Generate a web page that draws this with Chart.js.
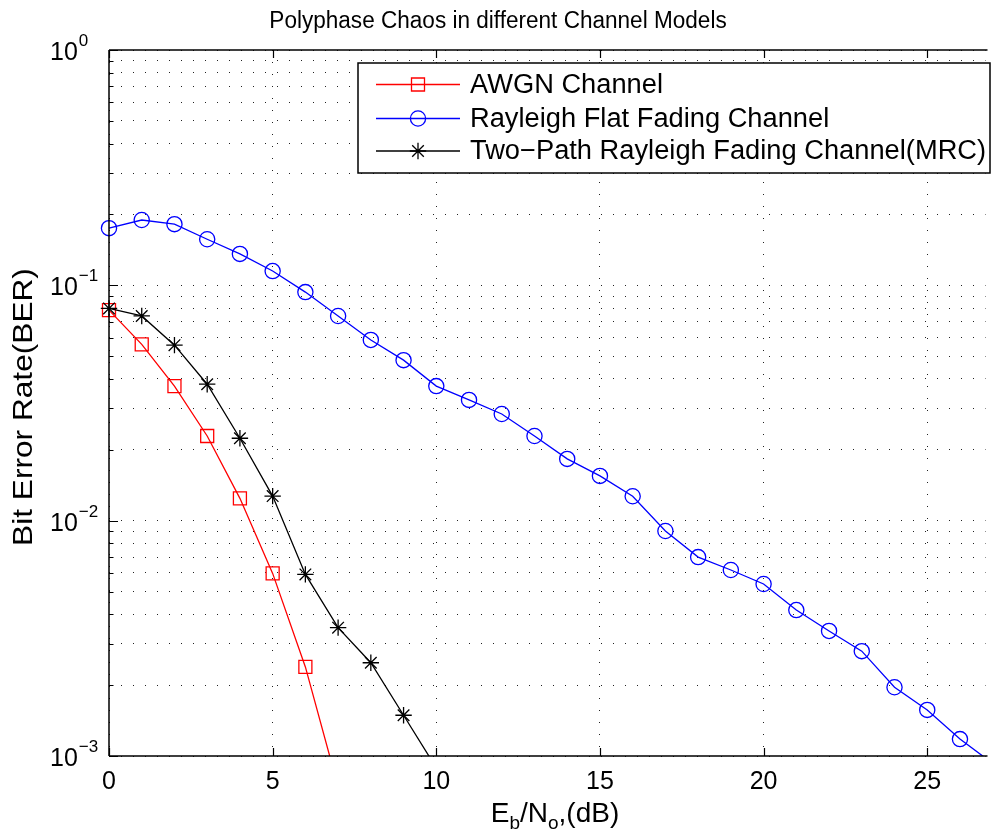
<!DOCTYPE html>
<html>
<head>
<meta charset="utf-8">
<title>Polyphase Chaos in different Channel Models</title>
<script src="https://cdn.jsdelivr.net/npm/chart.js@4.4.0/dist/chart.umd.min.js"></script>
<style>
  html, body { margin: 0; padding: 0; background: #fff; overflow: hidden; }
  canvas { display: block; }
</style>
</head>
<body>
<canvas id="berChart" width="996" height="837"></canvas>
<script>
// Eb/No sweep in dB
const ebnoDb = [0, 1, 2, 3, 4, 5, 6, 7, 8, 9, 10, 11, 12, 13, 14, 15, 16, 17, 18, 19, 20, 21, 22, 23, 24, 25, 26, 27];

// Simulated bit error rates
const awgnBer = [0.0785, 0.0561, 0.0373, 0.0229, 0.01244, 0.00597, 0.00239, 0.00074];
const rayleighBer = [0.175, 0.1895, 0.182, 0.157, 0.136, 0.115, 0.0936, 0.0741, 0.0586, 0.0481,
                     0.0373, 0.0326, 0.0284, 0.0229, 0.0183, 0.0155, 0.0127, 0.00904, 0.0070, 0.00617,
                     0.00538, 0.00417, 0.0034, 0.00279, 0.00196, 0.00157, 0.00118, 0.00093];
const twoPathBer = [0.0798, 0.0741, 0.0557, 0.0380, 0.0224, 0.01272, 0.00591, 0.00351, 0.00249, 0.00149, 0.00089];

// Axis ticks
const xTickValues = [0, 5, 10, 15, 20, 25];
const yDecadeExponents = [0, -1, -2, -3];

// Texts
const chartTitle = 'Polyphase Chaos in different Channel Models';
const yAxisTitle = 'Bit Error Rate(BER)';
const seriesNames = ['AWGN Channel', 'Rayleigh Flat Fading Channel', 'Two\u2212Path Rayleigh Fading Channel(MRC)'];

const FONT = "'Liberation Sans', Arial, Helvetica, sans-serif";

// every 1..9 x 10^k between the lowest and highest decade
const yGridValues = [];
(function () {
  const lo = Math.min(...yDecadeExponents), hi = Math.max(...yDecadeExponents);
  for (let e = lo; e < hi; e++) {
    for (let m = 1; m <= 9; m++) yGridValues.push(Number((m * Math.pow(10, e)).toPrecision(3)));
  }
  yGridValues.push(Math.pow(10, hi));
})();

const toPoints = (ys) => ys.map((v, i) => ({ x: ebnoDb[i], y: v }));

const seriesStyle = [
  { color: '#ff0000', pointStyle: 'rect', radius: 9.2 },
  { color: '#0000ff', pointStyle: 'circle', radius: 7.6 },
  { color: '#000000', pointStyle: 'star', radius: 8.2 }
];

const makeDataset = (label, values, style, order) => ({
  label,
  data: toPoints(values),
  borderColor: style.color,
  borderWidth: 1.3,
  pointStyle: style.pointStyle,
  pointRadius: style.radius,
  pointBorderColor: style.color,
  pointBorderWidth: 1.3,
  pointBackgroundColor: 'rgba(0,0,0,0)',
  tension: 0,
  fill: false,
  order,
  clip: { left: false, top: false, right: 0, bottom: 0 }
});

// text drawn with a stretch factor along its own direction
function stretchedText(ctx, text, x, y, sx) {
  ctx.save();
  ctx.translate(x, y);
  ctx.scale(sx, 1);
  ctx.fillText(text, 0, 0);
  ctx.restore();
}

// Axes box, inward tick marks, tick labels, titles and legend in MATLAB style
const matlabAxes = {
  id: 'matlabAxes',
  afterDraw(chart) {
    const { ctx, chartArea: a } = chart;
    const xs = chart.scales.x, ys = chart.scales.y;
    ctx.save();

    // box
    ctx.strokeStyle = '#000';
    ctx.lineWidth = 1.5;
    ctx.beginPath();
    ctx.moveTo(a.left, a.top); ctx.lineTo(a.right + 2, a.top);
    ctx.moveTo(a.left, a.top); ctx.lineTo(a.left, a.bottom);
    ctx.moveTo(a.left, a.bottom); ctx.lineTo(a.right + 2, a.bottom);
    ctx.stroke();

    // tick marks
    ctx.lineWidth = 1.2;
    ctx.beginPath();
    xTickValues.forEach(v => {
      const px = Math.round(xs.getPixelForValue(v)) + 0.5;
      ctx.moveTo(px, a.bottom); ctx.lineTo(px, a.bottom - 8);
      ctx.moveTo(px, a.top); ctx.lineTo(px, a.top + 8);
    });
    yGridValues.forEach(v => {
      const py = Math.round(ys.getPixelForValue(v)) + 0.5;
      const major = Math.abs(Math.log10(v) - Math.round(Math.log10(v))) < 1e-6;
      ctx.moveTo(a.left, py); ctx.lineTo(a.left + (major ? 9 : 4.5), py);
    });
    ctx.stroke();

    ctx.fillStyle = '#000';

    // x tick labels
    ctx.font = '25px ' + FONT;
    ctx.textAlign = 'center';
    ctx.textBaseline = 'alphabetic';
    xTickValues.forEach(v => {
      ctx.fillText(String(v), xs.getPixelForValue(v), a.bottom + 33);
    });

    // y tick labels: 10^k
    yDecadeExponents.forEach(e => {
      const py = ys.getPixelForValue(Math.pow(10, e));
      const base = py + 10;
      ctx.font = '25px ' + FONT;
      ctx.textAlign = 'left';
      ctx.fillText('10', a.left - 59, base);
      const w = ctx.measureText('10').width;
      ctx.font = '17px ' + FONT;
      ctx.fillText(e < 0 ? '\u2212' + Math.abs(e) : String(e), a.left - 59 + w + 1, base - 14);
    });

    // title
    ctx.font = '23.5px ' + FONT;
    ctx.textAlign = 'center';
    stretchedText(ctx, chartTitle, 498, a.top - 22, 0.96);

    // x axis title: Eb/No,(dB)
    const parts = [['E', 0], ['b', 1], ['/N', 0], ['o', 1], [',(dB)', 0]];
    const mainF = '28px ' + FONT, subF = '19px ' + FONT;
    let total = 0;
    parts.forEach(p => { ctx.font = p[1] ? subF : mainF; total += ctx.measureText(p[0]).width; });
    let cx = 555 - total / 2;
    const xb = a.bottom + 66;
    ctx.textAlign = 'left';
    parts.forEach(p => {
      ctx.font = p[1] ? subF : mainF;
      ctx.fillText(p[0], cx, xb + (p[1] ? 7 : 0));
      cx += ctx.measureText(p[0]).width;
    });

    // y axis title
    ctx.save();
    ctx.translate(32, (a.top + a.bottom) / 2 + 4);
    ctx.rotate(-Math.PI / 2);
    ctx.font = '28px ' + FONT;
    ctx.textAlign = 'center';
    ctx.textBaseline = 'alphabetic';
    stretchedText(ctx, yAxisTitle, 0, 0, 1.13);
    ctx.restore();

    // legend
    const lg = { left: 358, top: 63, right: 990, bottom: 173 };
    ctx.fillStyle = '#fff';
    ctx.fillRect(lg.left, lg.top, lg.right - lg.left, lg.bottom - lg.top);
    ctx.strokeStyle = '#000';
    ctx.lineWidth = 1.5;
    ctx.strokeRect(lg.left, lg.top, lg.right - lg.left, lg.bottom - lg.top);
    const rowY = [84.5, 118.5, 151];
    chart.data.datasets.forEach((ds, i) => {
      const y = rowY[i];
      const st = seriesStyle[i];
      ctx.strokeStyle = st.color;
      ctx.lineWidth = 1.3;
      ctx.beginPath();
      ctx.moveTo(376, y); ctx.lineTo(460, y);
      ctx.stroke();
      ctx.fillStyle = 'rgba(0,0,0,0)';
      Chart.helpers.drawPoint(ctx, { pointStyle: st.pointStyle, rotation: 0, radius: st.radius, borderWidth: 1.3 }, 418, y);
      ctx.fillStyle = '#000';
      ctx.font = '27px ' + FONT;
      ctx.textAlign = 'left';
      ctx.textBaseline = 'middle';
      stretchedText(ctx, ds.label, 470, y + 1, 1.01);
    });

    ctx.restore();
  }
};

new Chart(document.getElementById('berChart'), {
  type: 'line',
  data: {
    datasets: [
      makeDataset(seriesNames[0], awgnBer, seriesStyle[0], 3),
      makeDataset(seriesNames[1], rayleighBer, seriesStyle[1], 2),
      makeDataset(seriesNames[2], twoPathBer, seriesStyle[2], 1)
    ]
  },
  options: {
    responsive: false,
    animation: false,
    events: [],
    devicePixelRatio: 1,
    layout: { padding: { left: 109, top: 50, right: 0, bottom: 81 } },
    plugins: { legend: { display: false }, title: { display: false }, tooltip: { enabled: false } },
    scales: {
      x: {
        type: 'linear',
        min: 0,
        max: 26.78,
        afterBuildTicks: (s) => { s.ticks = xTickValues.map(v => ({ value: v })); },
        ticks: { display: false },
        grid: { display: true, color: '#222', lineWidth: 1, drawTicks: false },
        border: { display: false, dash: [1, 11] }
      },
      y: {
        type: 'logarithmic',
        min: Math.pow(10, Math.min(...yDecadeExponents)),
        max: Math.pow(10, Math.max(...yDecadeExponents)),
        afterBuildTicks: (s) => { s.ticks = yGridValues.map(v => ({ value: v })); },
        ticks: { display: false },
        grid: { display: true, color: '#222', lineWidth: 1, drawTicks: false },
        border: { display: false, dash: [1, 11] }
      }
    }
  },
  plugins: [matlabAxes]
});
</script>
</body>
</html>
